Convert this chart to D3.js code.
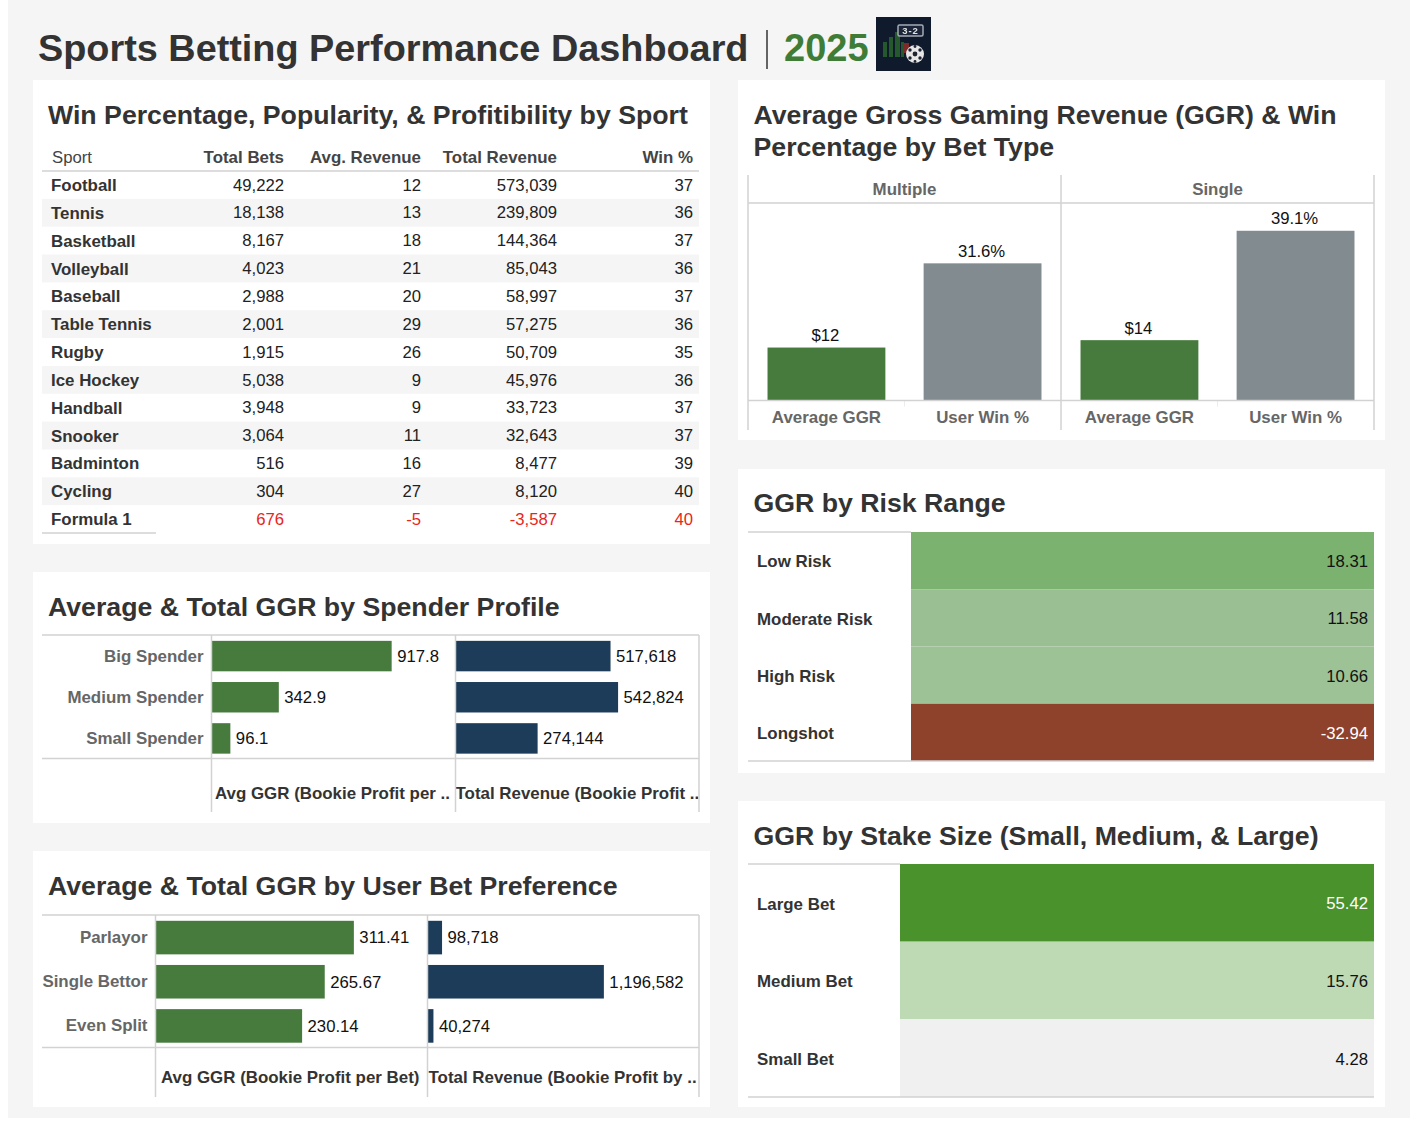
<!DOCTYPE html>
<html>
<head>
<meta charset="utf-8">
<title>Sports Betting Performance Dashboard</title>
<script src="https://cdn.jsdelivr.net/npm/d3@7"></script>
<style>
    html, body { margin: 0; padding: 0; background: #fff; }
    svg { display: block; font-family: "Liberation Sans", Arial, sans-serif; }
    .title { font-size: 26.7px; font-weight: 700; fill: #333; }
    .axis text { font-size: 16.9px; font-weight: 700; fill: #666; font-family: "Liberation Sans", Arial, sans-serif; }
    .val { font-size: 16.7px; fill: #111; }
    .head { font-size: 16.9px; font-weight: 700; fill: #333; }
    .rule { stroke: #d2d2d2; stroke-width: 1.5; fill: none; }
</style>
</head>
<body>
<div id="chart"></div>
<script>
// Sport table
const sports = ["Football", "Tennis", "Basketball", "Volleyball", "Baseball", "Table Tennis", "Rugby", "Ice Hockey", "Handball", "Snooker", "Badminton", "Cycling", "Formula 1"];
const totalBets = [49222, 18138, 8167, 4023, 2988, 2001, 1915, 5038, 3948, 3064, 516, 304, 676];
const avgRevenue = [12, 13, 18, 21, 20, 29, 26, 9, 9, 11, 16, 27, -5];
const totalRevenue = [573039, 239809, 144364, 85043, 58997, 57275, 50709, 45976, 33723, 32643, 8477, 8120, -3587];
const winPct = [37, 36, 37, 36, 37, 36, 35, 36, 37, 37, 39, 40, 40];

// Bet type
const betTypes = ["Multiple", "Single"];
const betMeasures = ["Average GGR", "User Win %"];
const avgGgrByType = [12.2, 13.9];
const userWinByType = [31.6, 39.1];

// Spender profile
const spenders = ["Big Spender", "Medium Spender", "Small Spender"];
const spenderAvg = [917.8, 342.9, 96.1];
const spenderTotal = [517618, 542824, 274144];

// Bet preference
const preferences = ["Parlayor", "Single Bettor", "Even Split"];
const preferenceAvg = [311.41, 265.67, 230.14];
const preferenceTotal = [98718, 1196582, 40274];

// Risk and stake
const riskRanges = ["Low Risk", "Moderate Risk", "High Risk", "Longshot"];
const riskGgr = [18.31, 11.58, 10.66, -32.94];
const stakeSizes = ["Large Bet", "Medium Bet", "Small Bet"];
const stakeGgr = [55.42, 15.76, 4.28];

const GREEN = "#477b3d", GREY = "#818b90", NAVY = "#1d3c59";

// hyphen instead of the d3 default minus sign
d3.formatDefaultLocale({ decimal: ".", thousands: ",", grouping: [3], currency: ["$", ""], minus: "-" });

const svg = d3.select("#chart").append("svg").attr("width", 1421).attr("height", 1129);
svg.append("rect").attr("x", 8).attr("y", 0).attr("width", 1402).attr("height", 1118).attr("fill", "#f5f5f5");

// Panneaux blancs
function panel(x, y, w, h) {
    svg.append("rect").attr("x", x).attr("y", y).attr("width", w).attr("height", h).attr("fill", "#fff");
}
function rule(x1, y1, x2, y2) {
    svg.append("line").attr("class", "rule").attr("x1", x1).attr("y1", y1).attr("x2", x2).attr("y2", y2);
}
function title(txt, x, y) {
    svg.append("text").attr("class", "title").attr("x", x).attr("y", y).text(txt);
}
panel(33, 80, 677, 464);
panel(738, 80, 647, 360);
panel(33, 572, 677, 251);
panel(33, 851, 677, 256);
panel(738, 469, 647, 304);
panel(738, 801, 647, 306);

// Header
svg.append("text").attr("x", 38).attr("y", 61).attr("font-size", 37.85).attr("font-weight", 700).attr("fill", "#333")
    .text("Sports Betting Performance Dashboard");
svg.append("line").attr("x1", 767).attr("x2", 767).attr("y1", 30).attr("y2", 69).attr("stroke", "#333").attr("stroke-width", 1.5);
svg.append("text").attr("x", 784).attr("y", 61).attr("font-size", 38).attr("font-weight", 700).attr("fill", "#3f7d37").text("2025");
drawLogo(876, 17);

function drawLogo(x, y) {
    const blur = svg.append("defs").append("filter").attr("id", "soft");
    blur.append("feGaussianBlur").attr("stdDeviation", 0.5);
    const g = svg.append("g").attr("transform", `translate(${x},${y})`);
    g.append("rect").attr("width", 55).attr("height", 54).attr("fill", "#0f1a2d");
    const art = g.append("g").attr("filter", "url(#soft)");
    [[7, 25, 4, 15], [13, 20, 4, 20], [19, 15, 5, 25], [25, 25, 3, 15]].forEach(b => {
        art.append("rect").attr("x", b[0]).attr("y", b[1]).attr("width", b[2]).attr("height", b[3]).attr("fill", "#27592f");
    });
    art.append("rect").attr("x", 28).attr("y", 26).attr("width", 5).attr("height", 10).attr("fill", "#7e2a2a");
    art.append("rect").attr("x", 22).attr("y", 8).attr("width", 25).attr("height", 11).attr("rx", 1.5)
        .attr("fill", "#1a2638").attr("stroke", "#a3abb4").attr("stroke-width", 1.5);
    art.append("text").attr("x", 34.5).attr("y", 17).attr("text-anchor", "middle").attr("font-size", 9.5).attr("font-weight", 700)
        .attr("letter-spacing", 1).attr("fill", "#e0e3e6").text("3-2");
    art.append("circle").attr("cx", 39).attr("cy", 37).attr("r", 9).attr("fill", "#e6e6e6");
    [[39, 37, 2.4], [34, 33, 1.7], [44, 33, 1.7], [34, 41, 1.7], [44, 41, 1.7], [39, 44.5, 1.4], [39, 29.5, 1.4]].forEach(c => {
        art.append("circle").attr("cx", c[0]).attr("cy", c[1]).attr("r", c[2]).attr("fill", "#1c2430");
    });
}

// Tableau par sport
function drawSportTable() {
    title("Win Percentage, Popularity, & Profitibility by Sport", 48, 124);
    const y = d3.scaleBand().domain(sports).range([171, 533]);
    const columns = [
        { label: "Total Bets", x: 284, values: totalBets, fmt: d3.format(",") },
        { label: "Avg. Revenue", x: 421, values: avgRevenue, fmt: d3.format("d") },
        { label: "Total Revenue", x: 557, values: totalRevenue, fmt: d3.format(",") },
        { label: "Win %", x: 693, values: winPct, fmt: d3.format("d") }
    ];
    svg.selectAll(".zebra").data(sports.filter((d, i) => i % 2 === 1)).enter().append("rect")
        .attr("x", 42).attr("width", 657).attr("y", d => y(d)).attr("height", y.bandwidth()).attr("fill", "#f5f5f5");
    rule(42, 171, 699, 171);
    rule(42, 533, 156, 533);
    svg.append("text").attr("x", 52).attr("y", 163).attr("font-size", 16.7).attr("fill", "#444").text("Sport");
    svg.selectAll(".sport").data(sports).enter().append("text")
        .attr("x", 51).attr("y", d => y(d) + y.bandwidth() / 2).attr("dy", ".36em")
        .attr("font-size", 16.9).attr("font-weight", 700).attr("fill", "#333").text(d => d);
    columns.forEach(c => {
        svg.append("text").attr("x", c.x).attr("y", 163).attr("text-anchor", "end")
            .attr("font-size", 16.9).attr("font-weight", 700).attr("fill", "#444").text(c.label);
        svg.append("g").selectAll("text").data(sports).enter().append("text")
            .attr("x", c.x).attr("y", d => y(d) + y.bandwidth() / 2).attr("dy", ".34em")
            .attr("text-anchor", "end").attr("font-size", 16.7)
            .attr("fill", (d, i) => totalRevenue[i] < 0 ? "#e8261c" : "#222")
            .text((d, i) => c.fmt(c.values[i]));
    });
}

// Barres par type de pari
function drawBetType() {
    title("Average Gross Gaming Revenue (GGR) & Win", 753.5, 124);
    title("Percentage by Bet Type", 753.5, 156);
    const facet = d3.scaleBand().domain(betTypes).range([748, 1374]);
    const y = d3.scaleLinear().domain([0, 45.5]).range([400.5, 203]);
    rule(748, 175, 748, 430);
    rule(1061, 175, 1061, 430);
    rule(1374, 175, 1374, 430);
    rule(748, 203, 1374, 203);
    betTypes.forEach((t, i) => {
        const x0 = facet(t);
        const x = d3.scaleBand().domain(betMeasures).range([x0, x0 + facet.bandwidth()]).paddingInner(0.245).paddingOuter(0.125);
        svg.append("text").attr("x", x0 + facet.bandwidth() / 2).attr("y", 189).attr("dy", ".36em").attr("text-anchor", "middle")
            .attr("font-size", 16.9).attr("font-weight", 700).attr("fill", "#666").text(t);
        const rows = [
            { m: betMeasures[0], v: avgGgrByType[i], c: GREEN, f: d3.format("$.0f") },
            { m: betMeasures[1], v: userWinByType[i], c: GREY, f: v => d3.format(".1f")(v) + "%" }
        ];
        const g = svg.append("g");
        g.selectAll("rect").data(rows).enter().append("rect")
            .attr("x", d => x(d.m)).attr("width", x.bandwidth())
            .attr("y", d => y(d.v)).attr("height", d => y(0) - y(d.v)).attr("fill", d => d.c);
        g.selectAll("text").data(rows).enter().append("text").attr("class", "val")
            .attr("x", d => x(d.m) + x.bandwidth() / 2 - 1).attr("y", d => y(d.v) - 6.5).attr("text-anchor", "middle").text(d => d.f(d.v));
        svg.append("g").attr("class", "axis").attr("transform", `translate(0,${y(0)})`)
            .call(d3.axisBottom(x).tickSize(0).tickPadding(11))
            .call(a => a.select(".domain").remove());
        // petit repère entre les deux barres
        svg.append("line").attr("x1", x0 + facet.bandwidth() / 2).attr("x2", x0 + facet.bandwidth() / 2)
            .attr("y1", y(0)).attr("y2", y(0) + 6).attr("stroke", "#ececec");
    });
    rule(748, 400.5, 1374, 400.5);
}

// Paire de barres horizontales
function drawPairedBars(o) {
    title(o.title, 48, o.titleY);
    const y = d3.scaleBand().domain(o.cats).range([o.top, o.bottom]).paddingInner(o.pad).paddingOuter(o.pad / 2);
    const panels = [
        { x0: o.xs[0], x1: o.xs[1], max: o.maxA, values: o.a, color: GREEN, fmt: o.fmtA, head: o.headA, hx: o.hxA },
        { x0: o.xs[1], x1: o.xs[2], max: o.maxB, values: o.b, color: NAVY, fmt: d3.format(","), head: o.headB, hx: o.hxB }
    ];
    panels.forEach(p => {
        const x = d3.scaleLinear().domain([0, p.max]).range([p.x0, p.x1]);
        const g = svg.append("g");
        g.selectAll("rect").data(o.cats).enter().append("rect")
            .attr("x", x(0)).attr("y", d => y(d) + 0.5).attr("height", y.bandwidth())
            .attr("width", (d, i) => x(p.values[i]) - x(0)).attr("fill", p.color);
        g.selectAll("text").data(o.cats).enter().append("text").attr("class", "val")
            .attr("x", (d, i) => x(p.values[i]) + 5.5).attr("y", d => y(d) + y.bandwidth() / 2 + 0.5).attr("dy", ".35em")
            .text((d, i) => p.fmt(p.values[i]));
        svg.append("text").attr("class", "head").attr("x", p.hx).attr("y", o.headY).text(p.head);
    });
    svg.append("g").attr("class", "axis").attr("transform", `translate(${o.xs[0]},0.5)`)
        .call(d3.axisLeft(y).tickSize(0).tickPadding(8))
        .call(a => a.select(".domain").remove());
    rule(42, o.top, 699, o.top);
    rule(42, o.bottom, 699, o.bottom);
    o.xs.forEach(v => rule(v, o.top, v, o.end));
}

// Cellules colorées
function drawCells(o) {
    title(o.title, 753.5, o.titleY);
    const y = d3.scaleBand().domain(o.cats).range([o.top, o.bottom]);
    const fill = d3.scaleOrdinal().domain(o.cats).range(o.colors);
    svg.append("g").selectAll("rect").data(o.cats).enter().append("rect")
        .attr("x", o.x0).attr("width", 1374 - o.x0).attr("y", d => y(d)).attr("height", y.bandwidth())
        .attr("fill", d => fill(d));
    svg.append("g").selectAll("text").data(o.cats).enter().append("text")
        .attr("x", 757).attr("y", d => y(d) + y.bandwidth() / 2 + 0.6).attr("dy", ".36em")
        .attr("font-size", 16.9).attr("font-weight", 700).attr("fill", "#333").text(d => d);
    svg.append("g").selectAll("text").data(o.cats).enter().append("text")
        .attr("x", 1368).attr("y", d => y(d) + y.bandwidth() / 2 + 0.6).attr("dy", ".35em").attr("text-anchor", "end")
        .attr("font-size", 16.7).attr("fill", (d, i) => o.dark(o.values[i]) ? "#fff" : "#111")
        .text((d, i) => d3.format(".2f")(o.values[i]));
    rule(748, o.top, o.x0, o.top);
    rule(748, o.bottom, 1374, o.bottom);
}

drawSportTable();
drawBetType();
drawPairedBars({
    title: "Average & Total GGR by Spender Profile", titleY: 616,
    cats: spenders, a: spenderAvg, b: spenderTotal,
    top: 635, bottom: 758.5, end: 812, pad: 0.26, xs: [211.5, 455.5, 699],
    maxA: 1243, maxB: 813000, fmtA: d3.format(".1f"),
    headA: "Avg GGR (Bookie Profit per ..", hxA: 215,
    headB: "Total Revenue (Bookie Profit ..", hxB: 455.5, headY: 799
});
drawPairedBars({
    title: "Average & Total GGR by User Bet Preference", titleY: 895,
    cats: preferences, a: preferenceAvg, b: preferenceTotal,
    top: 915, bottom: 1047.5, end: 1097, pad: 0.24, xs: [155.5, 427.5, 699],
    maxA: 427, maxB: 1842000, fmtA: d3.format(".2f"),
    headA: "Avg GGR (Bookie Profit per Bet)", hxA: 161,
    headB: "Total Revenue (Bookie Profit by ..", hxB: 428.5, headY: 1083
});
drawCells({
    title: "GGR by Risk Range", titleY: 512,
    cats: riskRanges, values: riskGgr, top: 532, bottom: 761, x0: 911,
    colors: ["#7bb270", "#9abf92", "#9dc295", "#8e412b"], dark: v => v < 0
});
drawCells({
    title: "GGR by Stake Size (Small, Medium, & Large)", titleY: 845,
    cats: stakeSizes, values: stakeGgr, top: 864, bottom: 1097, x0: 900,
    colors: ["#4a922c", "#bedab4", "#f0f0f0"], dark: v => v > 50
});
</script>
</body>
</html>
